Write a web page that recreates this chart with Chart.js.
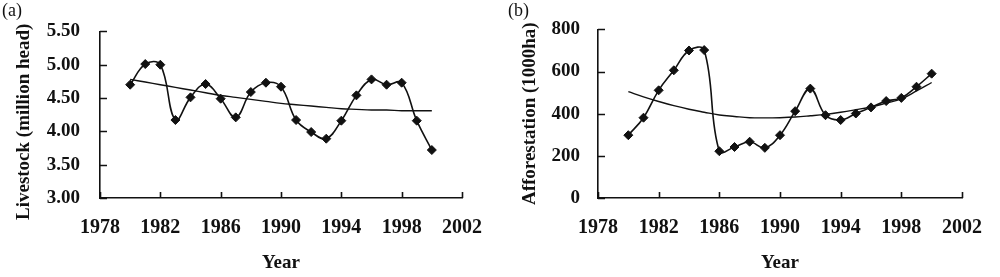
<!DOCTYPE html>
<html>
<head>
<meta charset="utf-8">
<script src="https://cdn.jsdelivr.net/npm/chart.js@4"></script>
<style>
  body { margin: 0; background: #fff; }
  .wrap { position: relative; width: 1000px; height: 277px; overflow: hidden; }
  canvas { position: absolute; top: 0; }
  .tag { position: absolute; top: 0; font: 18px "Liberation Serif", serif; color: #111; }
</style>
</head>
<body>
<div class="wrap">
  <canvas id="chartA" width="500" height="277" style="left:0"></canvas>
  <canvas id="chartB" width="500" height="277" style="left:500px"></canvas>
  <div class="tag" style="left:2px">(a)</div>
  <div class="tag" style="left:508px">(b)</div>
</div>
<script>
const years = [1980, 1981, 1982, 1983, 1984, 1985, 1986, 1987, 1988, 1989, 1990,
               1991, 1992, 1993, 1994, 1995, 1996, 1997, 1998, 1999, 2000];
const xTicks = [1978, 1982, 1986, 1990, 1994, 1998, 2002];

// (a) livestock, million head
const livestock = [4.70, 5.01, 5.00, 4.17, 4.51, 4.71, 4.49, 4.21, 4.59, 4.73, 4.67,
                   4.17, 3.99, 3.89, 4.16, 4.54, 4.78, 4.70, 4.73, 4.16, 3.72];
const livestockTrend = [4.78, 4.74, 4.70, 4.66, 4.62, 4.58, 4.54, 4.51, 4.48, 4.45, 4.42,
                        4.40, 4.38, 4.36, 4.34, 4.33, 4.32, 4.32, 4.31, 4.31, 4.31];
const livestockTicks = [3.0, 3.5, 4.0, 4.5, 5.0, 5.5];

// (b) afforestation, 1000 ha
const afforestation = [298, 381, 511, 606, 700, 702, 222, 242, 267, 238, 298,
                       412, 519, 393, 370, 401, 430, 460, 475, 528, 590];
const afforestTrend = [505, 480, 458, 438, 421, 407, 394, 387, 381, 380, 381,
                       384, 390, 397, 407, 419, 432, 450, 470, 508, 548];
const afforestTicks = [0, 200, 400, 600, 800];

const FONT = '"Liberation Serif", "Times New Roman", serif';
const INK = '#111';

// short tick marks pointing into the plot, like the original
const innerTicks = {
  id: 'innerTicks',
  afterDraw(chart) {
    const ctx = chart.ctx;
    const xs = chart.scales.x, ys = chart.scales.y;
    ctx.save();
    ctx.strokeStyle = INK;
    ctx.lineWidth = 1.6;
    ctx.beginPath();
    xs.ticks.forEach(t => {
      const px = Math.round(xs.getPixelForValue(t.value)) + 0.5;
      ctx.moveTo(px, ys.bottom);
      ctx.lineTo(px, ys.bottom - 6);
    });
    ys.ticks.forEach(t => {
      const py = Math.round(ys.getPixelForValue(t.value)) + 0.5;
      ctx.moveTo(xs.left, py);
      ctx.lineTo(xs.left + 7, py);
    });
    ctx.stroke();
    ctx.restore();
  }
};

function makeChart(id, opts) {
  const pts = vals => years.map((yr, i) => ({ x: yr, y: vals[i] }));
  return new Chart(document.getElementById(id), {
    type: 'line',
    data: {
      datasets: [
        {
          data: pts(opts.values),
          borderColor: INK,
          borderWidth: 1.6,
          tension: 0.4,
          pointStyle: 'rectRot',
          pointRadius: 4.5,
          pointBackgroundColor: INK,
          pointBorderColor: INK,
          pointBorderWidth: 1
        },
        {
          data: pts(opts.trend),
          borderColor: INK,
          borderWidth: 1.4,
          tension: 0.4,
          pointRadius: 0
        }
      ]
    },
    options: {
      responsive: false,
      animation: false,
      clip: false,
      layout: { padding: { top: 26, right: opts.right, left: 0, bottom: 0 } },
      plugins: { legend: { display: false }, tooltip: { enabled: false } },
      scales: {
        x: {
          type: 'linear',
          min: 1978,
          max: 2002,
          afterBuildTicks: s => { s.ticks = xTicks.map(v => ({ value: v })); },
          afterFit: s => { s.height = 79; },
          grid: { display: false, drawTicks: false },
          border: { display: true, color: INK, width: 1.6 },
          ticks: {
            padding: 18,
            color: INK,
            font: { family: FONT, size: 20, weight: 'bold' },
            callback: v => String(v)
          },
          title: {
            display: true,
            text: 'Year',
            color: INK,
            padding: { top: 0, bottom: 3 },
            font: { family: FONT, size: 19, weight: 'bold' }
          }
        },
        y: {
          min: opts.min,
          max: opts.max,
          afterBuildTicks: s => { s.ticks = opts.ticks.map(v => ({ value: v })); },
          afterFit: s => { s.width = opts.axisX; },
          grid: { display: false, drawTicks: false },
          border: { display: true, color: INK, width: 1.6 },
          ticks: {
            padding: opts.labelPad,
            color: INK,
            font: { family: FONT, size: 19, weight: 'bold' },
            callback: opts.fmt
          },
          title: {
            display: true,
            text: opts.yTitle,
            color: INK,
            padding: { top: opts.titlePad, bottom: 0 },
            font: { family: FONT, size: 19, weight: 'bold' }
          }
        }
      }
    },
    plugins: [innerTicks]
  });
}

makeChart('chartA', {
  values: livestock,
  trend: livestockTrend,
  ticks: livestockTicks,
  min: 3, max: 5.5,
  fmt: v => v.toFixed(2),
  yTitle: 'Livestock (million head)   ',
  axisX: 100, right: 30, labelPad: 20, titlePad: 13
});

makeChart('chartB', {
  values: afforestation,
  trend: afforestTrend,
  ticks: afforestTicks,
  min: 0, max: 800,
  fmt: v => String(v),
  yTitle: 'Afforestation (1000ha)',
  axisX: 98, right: 22, labelPad: 18, titlePad: 19
});
</script>
</body>
</html>
